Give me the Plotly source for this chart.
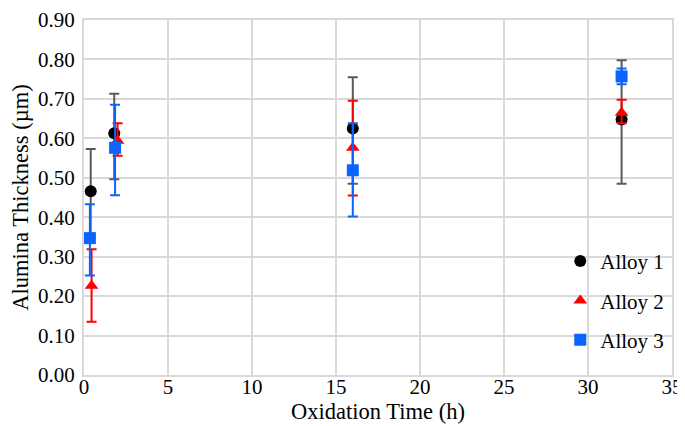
import plotly.graph_objects as go

series_names = ["Alloy 1", "Alloy 2", "Alloy 3"]
times_alloy1 = [0.4, 1.8, 16, 32]
times_alloy2 = [0.45, 2.0, 16, 32]
times_alloy3 = [0.35, 1.85, 16, 32]
thick_alloy1 = [0.466, 0.613, 0.625, 0.648]
thick_alloy2 = [0.226, 0.594, 0.576, 0.665]
thick_alloy3 = [0.347, 0.576, 0.519, 0.757]
err_plus_alloy1 = [0.107, 0.100, 0.130, 0.150]
err_minus_alloy1 = [0.113, 0.117, 0.140, 0.163]
err_plus_alloy2 = [0.093, 0.044, 0.119, 0.033]
err_minus_alloy2 = [0.091, 0.038, 0.121, 0.027]
err_plus_alloy3 = [0.086, 0.109, 0.119, 0.020]
err_minus_alloy3 = [0.095, 0.120, 0.117, 0.020]

xs = [times_alloy1, times_alloy2, times_alloy3]
ys = [thick_alloy1, thick_alloy2, thick_alloy3]
eps = [err_plus_alloy1, err_plus_alloy2, err_plus_alloy3]
ems = [err_minus_alloy1, err_minus_alloy2, err_minus_alloy3]
marker_colors = ["#000000", "#ff0000", "#0a64ff"]
err_colors = ["#595959", "#ff0000", "#0a64ff"]
symbols = ["circle", "triangle-up", "square"]

FONT = "Liberation Serif"

fig = go.Figure()
for i in range(3):
    fig.add_trace(go.Scatter(
        x=xs[i], y=ys[i], mode="markers", name=series_names[i],
        legendgroup=series_names[i],
        marker=dict(color=marker_colors[i], symbol=symbols[i], size=12,
                    line=dict(width=0)),
        error_y=dict(type="data", symmetric=False, array=eps[i], arrayminus=ems[i],
                     color=err_colors[i], thickness=2, width=5),
    ))

# page body adds an 8px margin, so the figure is sized to fit the window
fig.update_layout(
    width=677, height=418,
    margin=dict(l=76, r=13, t=12, b=51),
    paper_bgcolor="white", plot_bgcolor="white",
    font=dict(family=FONT, color="black", size=20),
    showlegend=True,
    legend=dict(x=0.81, y=0.21, xanchor="left", yanchor="middle",
                bgcolor="rgba(0,0,0,0)", font=dict(size=21, family=FONT),
                traceorder="grouped", tracegroupgap=9),
    xaxis=dict(range=[0, 35], dtick=5, tick0=0, showgrid=True, gridcolor="#d9d9d9",
               gridwidth=2, showline=True, linecolor="#d9d9d9", linewidth=2, mirror=True,
               zeroline=False, ticks="", tickfont=dict(size=21), automargin=False,
               ticklabelstandoff=-8,
               title=dict(text="Oxidation Time (h)", font=dict(size=22.5), standoff=4)),
    yaxis=dict(range=[0, 0.9], dtick=0.1, tick0=0, tickformat=".2f", showgrid=True,
               gridcolor="#d9d9d9", gridwidth=2, showline=True, linecolor="#d9d9d9",
               linewidth=2, mirror=True, zeroline=False, ticks="", tickfont=dict(size=21),
               automargin=False, ticklabelstandoff=3,
               title=dict(text="Alumina Thickness (µm)", font=dict(size=22.5), standoff=6)),
)

fig.write_html("out.html")
